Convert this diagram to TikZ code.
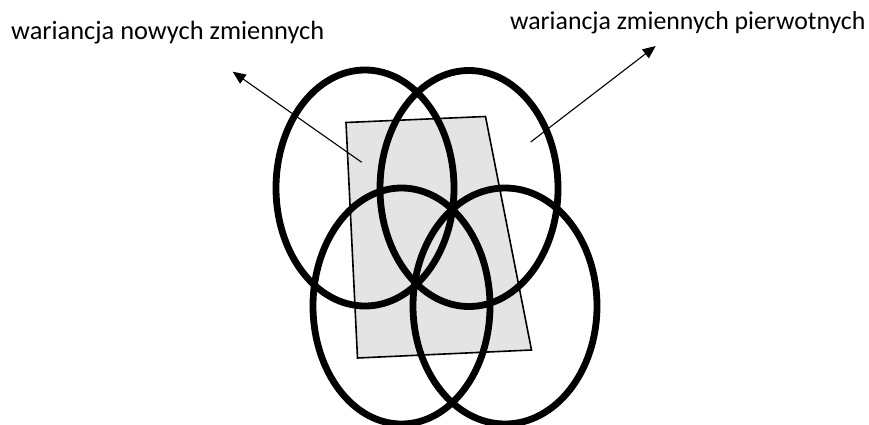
\documentclass[tikz,border=0pt]{standalone}
\usepackage{fontspec}
\setmainfont{Carlito}
\usetikzlibrary{arrows.meta}
\definecolor{quadgray}{HTML}{E4E4E4}
\tikzset{
  ring/.style={draw=black, line width=6.8pt},
  quad/.style={draw=black, line width=1.6pt, fill=quadgray, line join=miter},
  pointer/.style={draw=black, line width=1.1pt, -{Triangle[length=13pt,width=11pt]}},
  label/.style={inner sep=0pt, anchor=base west}
}
\begin{document}
\begin{tikzpicture}[x=1pt,y=-1pt]
\useasboundingbox (0,0) rectangle (869,425);
% grey plane
\coordinate (q1) at (346,122.5);
\coordinate (q2) at (485.5,116.5);
\coordinate (q3) at (531.5,350);
\coordinate (q4) at (357.5,358);
\draw[quad] (q1) -- (q2) -- (q3) -- (q4) -- cycle;
% ellipses
\coordinate (e1) at (365,188);
\coordinate (e2) at (469,188.5);
\coordinate (e3) at (401.5,306);
\coordinate (e4) at (505,306);
\draw[ring] (e1) ellipse [x radius=89pt, y radius=118pt];
\draw[ring] (e2) ellipse [x radius=89pt, y radius=118pt];
\draw[ring] (e3) ellipse [x radius=88.5pt, y radius=118pt];
\draw[ring] (e4) ellipse [x radius=92pt, y radius=118pt];
% labels
\node[label, font=\fontsize{26.4}{30}\selectfont] (t1) at (11,40) {wariancja nowych zmiennych};
\node[label, font=\fontsize{25.8}{30}\selectfont] (t2) at (510,30) {wariancja zmiennych pierwotnych};
% arrows
\coordinate (a1s) at (361.7,162.3);
\coordinate (a1e) at (232.7,71.7);
\coordinate (a2s) at (530.7,142);
\coordinate (a2e) at (655.7,46);
\draw[pointer] (a1s) -- (a1e);
\draw[pointer] (a2s) -- (a2e);
\end{tikzpicture}
\end{document}
